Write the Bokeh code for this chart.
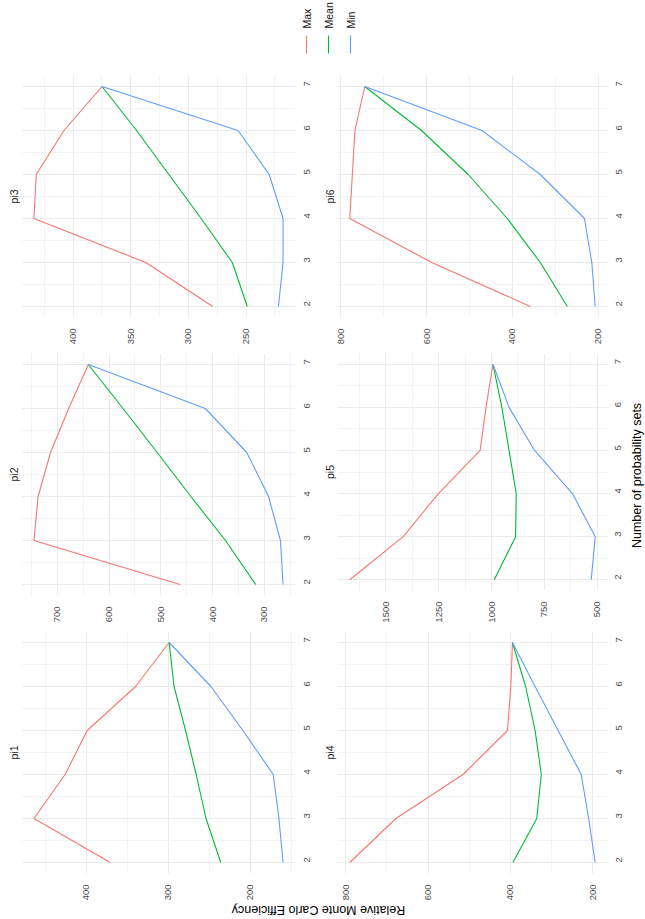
import math
from bokeh.plotting import figure
from bokeh.models import Range1d, FixedTicker, Label
from bokeh.layouts import column, row
from bokeh.embed import file_html
from bokeh.resources import INLINE

# ---------------- data ----------------
sets = [2, 3, 4, 5, 6, 7]
series = ["Max", "Mean", "Min"]

pi1_max = [371, 464, 426, 399, 340, 299]
pi1_mean = [236, 254, 266, 279, 293, 299]
pi1_min = [160, 165, 172, 209, 248, 299]

pi2_max = [463, 745, 737, 713, 678, 640]
pi2_mean = [317, 375, 442, 507, 573, 640]
pi2_min = [264, 269, 292, 334, 414, 640]

pi3_max = [279, 337, 434, 432, 408, 375]
pi3_mean = [249, 262, 289, 317, 345, 375]
pi3_min = [222, 218, 218, 230, 257, 375]

pi4_max = [790, 678, 515, 407, 399, 395]
pi4_mean = [394, 336, 325, 340, 363, 395]
pi4_min = [194, 210, 228, 284, 340, 395]

pi5_max = [1671, 1418, 1251, 1054, 1026, 993]
pi5_mean = [987, 886, 883, 917, 951, 993]
pi5_min = [528, 509, 617, 796, 917, 993]

pi6_max = [358, 588, 779, 773, 767, 744]
pi6_mean = [272, 335, 412, 503, 612, 744]
pi6_min = [207, 215, 232, 335, 471, 744]

pi1_ticks = [200, 300, 400]
pi2_ticks = [300, 400, 500, 600, 700]
pi3_ticks = [250, 300, 350, 400]
pi4_ticks = [200, 400, 600, 800]
pi5_ticks = [500, 750, 1000, 1250, 1500]
pi6_ticks = [200, 400, 600, 800]

x_title = "Relative Monte Carlo Efficiency"
y_title = "Number of probability sets"

# ---------------- style ----------------
FONT = "Liberation Sans"
COLORS = ["#F8766D", "#00BA38", "#619CFF"]
GRID = "#EBEBEB"
MINOR = "#F3F3F3"
ROWH = 278


def blank(width, height, xr, yr):
    p = figure(width=width, height=height, x_range=Range1d(*xr), y_range=Range1d(*yr),
               x_axis_location=None, y_axis_location=None,
               output_backend="svg", toolbar_location=None, min_border=0)
    p.grid.visible = False
    p.outline_line_color = None
    return p


def panel(name, lines, ticks, width, bl, br):
    vals = [v for s in lines for v in s]
    lo, hi = min(vals), max(vals)
    pad = 0.05 * (hi - lo)
    p = figure(width=width, height=ROWH,
               x_range=Range1d(hi + pad, lo - pad), y_range=Range1d(1.75, 7.25),
               y_axis_location="right", title=name, title_location="left",
               output_backend="svg", toolbar_location=None,
               min_border_left=bl, min_border_right=br,
               min_border_top=6, min_border_bottom=29)
    p.outline_line_color = None
    p.title.text_font = FONT
    p.title.text_font_size = "10.5px"
    p.title.text_font_style = "normal"
    p.title.text_color = "#1A1A1A"
    p.title.align = "center"
    p.title.standoff = 3

    step = ticks[1] - ticks[0]
    minors = []
    t = ticks[0] - step / 2
    while t <= hi + pad:
        if t >= lo - pad:
            minors.append(t)
        t += step
    xt = FixedTicker(ticks=ticks, minor_ticks=minors)
    yt = FixedTicker(ticks=sets, minor_ticks=[s + 0.5 for s in sets[:-1]])
    p.xaxis.ticker = xt
    p.xgrid.ticker = xt
    p.yaxis.ticker = yt
    p.ygrid.ticker = yt

    for g in (p.xgrid, p.ygrid):
        g.grid_line_color = GRID
        g.grid_line_width = 1
        g.minor_grid_line_color = MINOR
        g.minor_grid_line_width = 1

    for ax in (p.xaxis, p.yaxis):
        ax.axis_line_color = None
        ax.major_tick_line_color = None
        ax.minor_tick_line_color = None
        ax.major_label_text_font = FONT
        ax.major_label_text_font_size = "9.5px"
        ax.major_label_text_color = "#4D4D4D"
        ax.major_label_orientation = math.pi / 2
        ax.major_label_standoff = 5

    for s, c in zip(lines, COLORS):
        p.line(x=s, y=sets, line_color=c, line_width=1.1)
    return p


LW, LBL, LBR = 315, 21, 20
RW, RBL, RBR = 312, 22, 18
TW = 18
TOTW = LW + RW + TW

p3 = panel("pi3", [pi3_max, pi3_mean, pi3_min], pi3_ticks, LW, LBL, LBR)
p2 = panel("pi2", [pi2_max, pi2_mean, pi2_min], pi2_ticks, LW, LBL, LBR)
p1 = panel("pi1", [pi1_max, pi1_mean, pi1_min], pi1_ticks, LW, LBL, LBR)
p6 = panel("pi6", [pi6_max, pi6_mean, pi6_min], pi6_ticks, RW, RBL, RBR)
p5 = panel("pi5", [pi5_max, pi5_mean, pi5_min], pi5_ticks, RW, RBL, RBR)
p4 = panel("pi4", [pi4_max, pi4_mean, pi4_min], pi4_ticks, RW, RBL, RBR)

# legend (rotated, at top)
LEGH = 69
leg = blank(TOTW, LEGH, (0, TOTW), (0, LEGH))
kx = [306, 328, 350]
leg.segment(x0=kx, y0=[16, 16, 16], x1=kx, y1=[34, 34, 34], line_color=COLORS, line_width=1.1)
for x, name in zip(kx, series):
    leg.add_layout(Label(x=x, y=41, text=name, angle=math.pi / 2, text_align="left",
                         text_baseline="middle", text_font=FONT, text_font_size="10.5px",
                         text_color="#1A1A1A"))

# right title
ytf = blank(TW, ROWH * 3, (0, TW), (0, ROWH * 3))
ytf.add_layout(Label(x=9, y=428, text=y_title, angle=math.pi / 2, text_align="center",
                     text_baseline="middle", text_font=FONT, text_font_size="12.5px",
                     text_color="#000000"))

# bottom title
xtf = blank(TOTW, 16, (0, TOTW), (0, 16))
xtf.add_layout(Label(x=318, y=10, text=x_title, angle=math.pi, text_align="center",
                     text_baseline="middle", text_font=FONT, text_font_size="12.5px",
                     text_color="#000000"))

layout = column(leg,
                row(column(p3, p2, p1), column(p6, p5, p4), ytf),
                xtf)

open("out.html", "w").write(file_html(layout, INLINE))
